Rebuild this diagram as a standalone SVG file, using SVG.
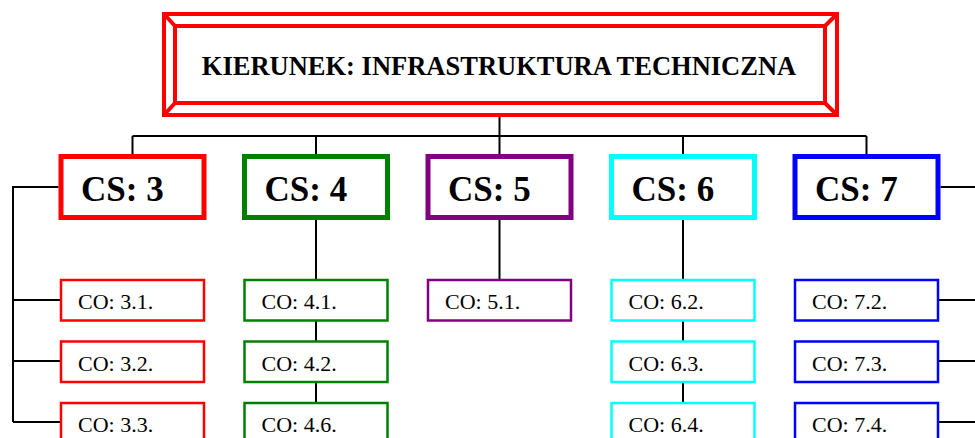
<svg xmlns="http://www.w3.org/2000/svg" width="975" height="438" viewBox="0 0 975 438">
<style>
.bg{fill:#fff}
.cs{fill:#fff;stroke-width:5}
.co{fill:#fff;stroke-width:2.5}
.cst{font-family:"Liberation Serif","Times New Roman",serif;font-weight:bold;font-size:35px;fill:#000}
.cot{font-family:"Liberation Serif","Times New Roman",serif;font-size:22px;fill:#000}
.conn{fill:none;stroke:#000;stroke-width:2}
.frame{fill:none;stroke:#ff0000;stroke-width:4}
.red{stroke:#ff0000}.green{stroke:#008000}.purple{stroke:#800080}.cyan{stroke:#00ffff}.blue{stroke:#0000ff}
</style>
<rect class="bg" x="0" y="0" width="975" height="438"/>
<g id="connectors">
<path class="conn" d="M499.5 115V136M132.5 136H866.5M132.5 136V156.5M316 136V156.5M499.5 136V156.5M683 136V156.5M866.5 136V156.5"/>
<path class="conn" d="M58.5 187H13V422M13 300H61M13 361H61M13 422H61"/>
<path class="conn" d="M316 220V280M316 320.5V341.5M316 382V403"/>
<path class="conn" d="M499.5 220V280"/>
<path class="conn" d="M683 220V280M683 320.5V341.5M683 382V403"/>
<path class="conn" d="M940.5 187H980M938 300H980M938 361H980M938 422H980"/>
</g>
<g id="top">
<rect class="frame" x="164" y="14" width="673" height="101"/>
<rect class="frame" x="175" y="26" width="650" height="77"/>
<path class="frame" d="M164 14L175 26M837 14L825 26M164 115L175 103M837 115L825 103"/>
<text x="499" y="75" text-anchor="middle" font-family="'Liberation Serif','Times New Roman',serif" font-weight="bold" font-size="26.5">KIERUNEK: INFRASTRUKTURA TECHNICZNA</text>
</g>
<g id="cs3"><rect class="cs red" x="61" y="156.5" width="143" height="61"/><text class="cst" x="81" y="201">CS: 3</text></g>
<g id="cs4"><rect class="cs green" x="244.5" y="156.5" width="143" height="61"/><text class="cst" x="264.5" y="201">CS: 4</text></g>
<g id="cs5"><rect class="cs purple" x="428" y="156.5" width="143" height="61"/><text class="cst" x="448" y="201">CS: 5</text></g>
<g id="cs6"><rect class="cs cyan" x="611.5" y="156.5" width="143" height="61"/><text class="cst" x="631.5" y="201">CS: 6</text></g>
<g id="cs7"><rect class="cs blue" x="795" y="156.5" width="143" height="61"/><text class="cst" x="815" y="201">CS: 7</text></g>
<g id="co31"><rect class="co red" x="61" y="280" width="143" height="40.5"/><text class="cot" x="78" y="309">CO: 3.1.</text></g>
<g id="co32"><rect class="co red" x="61" y="341.5" width="143" height="40.5"/><text class="cot" x="78" y="370.5">CO: 3.2.</text></g>
<g id="co33"><rect class="co red" x="61" y="403" width="143" height="40.5"/><text class="cot" x="78" y="432">CO: 3.3.</text></g>
<g id="co41"><rect class="co green" x="244.5" y="280" width="143" height="40.5"/><text class="cot" x="261.5" y="309">CO: 4.1.</text></g>
<g id="co42"><rect class="co green" x="244.5" y="341.5" width="143" height="40.5"/><text class="cot" x="261.5" y="370.5">CO: 4.2.</text></g>
<g id="co46"><rect class="co green" x="244.5" y="403" width="143" height="40.5"/><text class="cot" x="261.5" y="432">CO: 4.6.</text></g>
<g id="co51"><rect class="co purple" x="428" y="280" width="143" height="40.5"/><text class="cot" x="445" y="309">CO: 5.1.</text></g>
<g id="co62"><rect class="co cyan" x="611.5" y="280" width="143" height="40.5"/><text class="cot" x="628.5" y="309">CO: 6.2.</text></g>
<g id="co63"><rect class="co cyan" x="611.5" y="341.5" width="143" height="40.5"/><text class="cot" x="628.5" y="370.5">CO: 6.3.</text></g>
<g id="co64"><rect class="co cyan" x="611.5" y="403" width="143" height="40.5"/><text class="cot" x="628.5" y="432">CO: 6.4.</text></g>
<g id="co72"><rect class="co blue" x="795" y="280" width="143" height="40.5"/><text class="cot" x="812" y="309">CO: 7.2.</text></g>
<g id="co73"><rect class="co blue" x="795" y="341.5" width="143" height="40.5"/><text class="cot" x="812" y="370.5">CO: 7.3.</text></g>
<g id="co74"><rect class="co blue" x="795" y="403" width="143" height="40.5"/><text class="cot" x="812" y="432">CO: 7.4.</text></g>
</svg>
